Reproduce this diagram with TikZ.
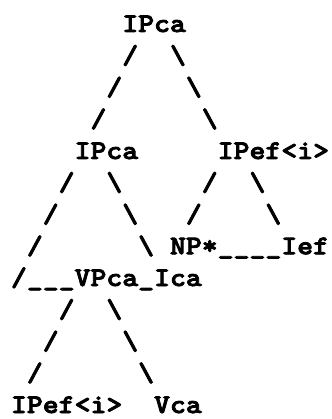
\documentclass[tikz,border=0pt]{standalone}
\usepackage{fontspec}
% bold typewriter face, widened so one cell is 15.9pt at 27pt
\newfontfamily\treefont{lmmonolt10-bold.otf}[FakeStretch=1.122, FakeBold=3]
\tikzset{
  tok/.style={anchor=base west, inner sep=0pt, outer sep=0pt,
    font=\treefont\fontsize{27pt}{32pt}\selectfont},
}
% one typewriter cell: column c, line r
\newcommand\tok[4]{\node[tok] (#1) at ({11+15.9*#2},{-32-31.75*#3}) {#4};}
\newcommand\fs{/}
\newcommand\bs{\textbackslash}
\begin{document}
\begin{tikzpicture}[x=1pt,y=1pt]
\useasboundingbox (0,0) rectangle (331,-419);
% root
\tok{root}{7}{0}{IPca}
\tok{s1a}{7}{1}{\fs}  \tok{s1b}{10}{1}{\bs}
\tok{s2a}{6}{2}{\fs}  \tok{s2b}{11}{2}{\bs}
\tok{s3a}{5}{3}{\fs}  \tok{s3b}{12}{3}{\bs}
% second level
\tok{ipca}{4}{4}{IPca}  \tok{ipefA}{13}{4}{IPef<i>}
\tok{s5a}{3}{5}{\fs}  \tok{s5b}{6}{5}{\bs}  \tok{s5c}{12}{5}{\fs}  \tok{s5d}{15}{5}{\bs}
\tok{s6a}{2}{6}{\fs}  \tok{s6b}{7}{6}{\bs}  \tok{s6c}{11}{6}{\fs}  \tok{s6d}{16}{6}{\bs}
\tok{s7a}{1}{7}{\fs}  \tok{s7b}{8}{7}{\bs}
\tok{np}{10}{7}{NP*}  \tok{ul7}{13}{7}{\_\_\_\_}  \tok{ief}{17}{7}{Ief}
% VP line
\tok{s8a}{0}{8}{\fs}  \tok{ul8}{1}{8}{\_\_\_}  \tok{vp}{4}{8}{VPca\_Ica}
\tok{s9a}{3}{9}{\fs}   \tok{s9b}{6}{9}{\bs}
\tok{s10a}{2}{10}{\fs} \tok{s10b}{7}{10}{\bs}
\tok{s11a}{1}{11}{\fs} \tok{s11b}{8}{11}{\bs}
% leaves
\tok{ipefB}{0}{12}{IPef<i>}  \tok{vca}{9}{12}{Vca}
\end{tikzpicture}
\end{document}
